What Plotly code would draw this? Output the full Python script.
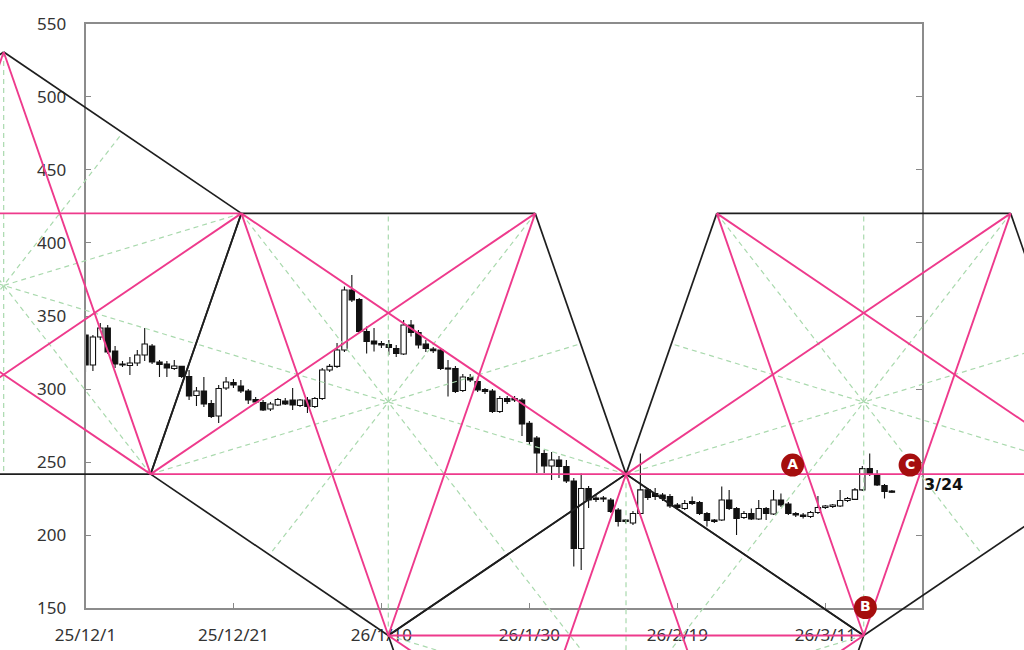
import pandas as pd
import plotly.graph_objects as go

# ---------------- candlestick data (daily from 2025-12-01) ----------------
start_date = "2025-12-01"
opens = [337.0, 316.5, 335.6, 341.8, 326.1, 317.2, 316.1, 317.8, 323.3, 329.5,
         318.5, 317.2, 314.1, 315.5, 308.6, 295.6, 298.7, 290.1, 281.6, 300.7,
         304.5, 302.1, 298.7, 292.9, 290.8, 286.4, 289.1, 291.8, 292.5, 288.8,
         292.5, 288.1, 293.6, 313.1, 315.5, 326.7, 367.8, 361.3, 339.4, 332.9,
         331.2, 330.5, 327.8, 324.0, 343.8, 338.7, 330.8, 327.4, 326.7, 314.4,
         314.1, 299.0, 307.9, 305.2, 299.7, 298.7, 284.7, 293.6, 293.6, 292.5,
         276.5, 266.5, 255.9, 247.4, 251.5, 247.0, 237.1, 190.9, 232.0, 225.5,
         224.8, 224.1, 217.3, 210.4, 208.4, 214.9, 231.0, 228.6, 227.5, 226.5,
         220.7, 218.3, 223.1, 222.4, 214.9, 210.4, 210.4, 224.1, 218.3, 212.1,
         214.9, 211.1, 218.3, 214.5, 224.1, 221.4, 214.9, 213.8, 212.8, 215.5,
         219.0, 219.7, 220.0, 223.8, 224.5, 231.0, 245.6, 241.2, 234.0, 230.3]
highs = [338.4, 337.0, 345.2, 343.8, 329.5, 319.2, 322.0, 326.7, 341.8, 330.8,
         319.9, 319.2, 319.9, 315.8, 313.1, 301.4, 308.3, 292.5, 302.8, 308.3,
         306.9, 306.2, 300.1, 294.6, 292.5, 291.2, 293.9, 293.9, 300.7, 293.2,
         294.6, 294.6, 314.4, 317.2, 331.5, 370.2, 378.1, 362.3, 342.8, 341.8,
         332.9, 333.6, 330.2, 347.3, 347.3, 340.4, 333.6, 328.8, 328.1, 319.9,
         315.8, 310.3, 310.3, 307.6, 300.7, 300.1, 295.3, 295.3, 295.3, 293.9,
         278.2, 267.9, 258.3, 257.0, 254.2, 251.5, 239.2, 242.2, 233.7, 227.5,
         226.8, 225.5, 218.6, 211.1, 216.6, 255.9, 232.3, 232.3, 228.9, 228.2,
         222.1, 224.1, 226.5, 223.4, 215.9, 211.1, 233.3, 231.0, 219.3, 216.6,
         218.3, 224.1, 219.3, 231.0, 228.6, 222.7, 215.9, 215.2, 216.6, 226.8,
         220.7, 221.4, 231.0, 226.2, 232.3, 247.4, 255.9, 244.6, 235.1, 230.9]
lows = [311.7, 312.4, 333.6, 324.0, 314.4, 315.1, 309.6, 315.8, 319.2, 317.2,
        308.3, 308.3, 313.1, 307.6, 292.5, 288.4, 287.7, 280.2, 276.8, 299.4,
        300.7, 297.3, 289.8, 289.8, 285.0, 285.0, 288.4, 289.1, 285.7, 287.7,
        283.6, 287.1, 292.5, 311.7, 314.4, 325.4, 359.6, 338.4, 324.4, 325.7,
        328.1, 323.3, 322.0, 323.3, 336.0, 327.8, 325.4, 324.7, 313.1, 294.9,
        297.3, 298.0, 304.8, 298.0, 296.6, 283.6, 283.6, 289.8, 291.2, 267.9,
        261.7, 242.6, 242.6, 237.8, 239.2, 235.7, 178.6, 176.2, 218.6, 222.7,
        222.7, 215.2, 206.0, 208.0, 207.0, 213.8, 224.1, 224.1, 223.4, 218.6,
        218.0, 217.3, 220.7, 213.8, 206.0, 208.4, 209.7, 217.3, 200.2, 211.1,
        210.4, 210.4, 210.4, 213.8, 219.3, 213.8, 212.5, 211.5, 211.8, 214.5,
        218.0, 218.6, 219.3, 222.7, 224.1, 230.3, 240.5, 233.7, 225.1, 228.9]
closes = [316.5, 335.6, 341.8, 325.4, 317.2, 316.5, 317.8, 323.3, 330.8, 318.5,
          316.8, 314.4, 315.8, 308.6, 295.3, 298.7, 289.8, 281.2, 300.4, 304.8,
          302.8, 298.7, 292.5, 291.2, 285.7, 289.8, 292.9, 289.8, 289.1, 292.5,
          288.1, 293.6, 313.1, 315.5, 326.7, 367.8, 361.0, 339.4, 332.6, 330.8,
          330.2, 328.5, 324.4, 343.8, 338.7, 330.2, 327.8, 326.3, 314.1, 313.7,
          298.3, 308.3, 306.2, 299.4, 298.3, 284.7, 293.6, 291.5, 292.5, 276.1,
          264.1, 256.3, 247.4, 251.5, 247.0, 237.1, 190.9, 232.0, 224.1, 224.5,
          225.5, 216.2, 209.4, 209.4, 214.9, 231.0, 225.8, 226.5, 225.1, 220.0,
          219.0, 221.7, 221.7, 214.9, 210.1, 209.4, 224.1, 218.3, 211.5, 214.9,
          211.1, 218.3, 214.9, 224.1, 220.7, 214.9, 213.8, 212.8, 215.5, 219.0,
          220.0, 220.7, 223.8, 225.1, 231.0, 245.6, 241.9, 234.4, 229.9, 229.4]
dates = pd.date_range(start_date, periods=len(opens), freq="D")

# ---------------- axes ----------------
x_range = ["2025-12-01", "2026-03-24"]
y_range = [150, 550]
y_ticks = [150, 200, 250, 300, 350, 400, 450, 500, 550]
x_tick_dates = ["2025-12-01", "2025-12-21", "2026-01-10", "2026-01-30", "2026-02-19", "2026-03-11"]
x_tick_labels = ["25/12/1", "25/12/21", "26/1/10", "26/1/30", "26/2/19", "26/3/11"]

# ---------------- pentagon overlay (apex points) ----------------
pent_apex_dates = ["2025-11-19 22:34", "2026-01-10 22:19", "2026-02-12 01:26", "2026-03-16 04:34"]
pent_apex_prices = [530.6, 131.4, 241.8, 131.4]
pent_pointing = ["up", "down", "up", "down"]
pent_half_diag_days = 32.13
pent_half_edge_days = 19.86
pent_diag_drop = 110.4
pent_base_drop = 288.8

# ---------------- marks ----------------
mark_labels = ["A", "B", "C"]
mark_dates = ["2026-03-06 14:00", "2026-03-16 10:00", "2026-03-22 11:00"]
mark_prices = [248.0, 150.5, 248.0]
note_text = "3/24"
note_date = "2026-03-24 02:00"
note_price = 234.5

# ---------------- layout geometry ----------------
W, H = 1024, 650
fx0, fx1 = 85.5 / W, 921.5 / W
fy0, fy1 = (H - 608.3) / H, (H - 23.7) / H

t0, t1 = pd.Timestamp(x_range[0]), pd.Timestamp(x_range[1])
span_t = (t1 - t0) / (fx1 - fx0)
full_x = [(t0 - span_t * fx0).isoformat(), (t1 + span_t * (1 - fx1)).isoformat()]
span_y = (y_range[1] - y_range[0]) / (fy1 - fy0)
full_y = [y_range[0] - span_y * fy0, y_range[1] + span_y * (1 - fy1)]


def pent_vertices(apex_date, apex_price, pointing):
    t = pd.Timestamp(apex_date)
    s = 1 if pointing == "up" else -1
    hd = pd.Timedelta(days=pent_half_diag_days)
    he = pd.Timedelta(days=pent_half_edge_days)
    return [
        (t, apex_price),
        (t + hd, apex_price - s * pent_diag_drop),
        (t + he, apex_price - s * pent_base_drop),
        (t - he, apex_price - s * pent_base_drop),
        (t - hd, apex_price - s * pent_diag_drop),
    ]


def mid(a, b):
    return (a[0] + (b[0] - a[0]) / 2, (a[1] + b[1]) / 2)


edge_x, edge_y, diag_x, diag_y, ray_x, ray_y = [], [], [], [], [], []
for d, p, o in zip(pent_apex_dates, pent_apex_prices, pent_pointing):
    v = pent_vertices(d, p, o)
    for i in range(5):
        a, b = v[i], v[(i + 1) % 5]
        edge_x += [a[0].isoformat(), b[0].isoformat(), None]
        edge_y += [a[1], b[1], None]
        c = v[(i + 2) % 5]
        diag_x += [a[0].isoformat(), c[0].isoformat(), None]
        diag_y += [a[1], c[1], None]
        m = mid(v[(i + 2) % 5], v[(i + 3) % 5])
        ray_x += [a[0].isoformat(), m[0].isoformat(), None]
        ray_y += [a[1], m[1], None]

# candle pieces built from OHLC (wicks stop at the body)
wick_x, wick_y = [], []
for d, o, h, l, c in zip(dates, opens, highs, lows, closes):
    top, bot = max(o, c), min(o, c)
    wick_x += [d, d, None, d, d, None]
    wick_y += [top, h, None, l, bot, None]
body_base = [min(o, c) for o, c in zip(opens, closes)]
body_len = [max(abs(c - o), 0.35) for o, c in zip(opens, closes)]
body_fill = ["#ffffff" if c >= o else "#111111" for o, c in zip(opens, closes)]

fig = go.Figure()

fig.add_trace(go.Scatter(x=wick_x, y=wick_y, mode="lines", xaxis="x", yaxis="y",
                         line=dict(color="#111111", width=1.1),
                         showlegend=False, hoverinfo="skip"))
fig.add_trace(go.Bar(x=dates, y=body_len, base=body_base, xaxis="x", yaxis="y",
                     width=0.72 * 86400000,
                     marker=dict(color=body_fill, line=dict(color="#111111", width=1.1)),
                     showlegend=False, hoverinfo="skip"))

fig.add_trace(go.Scatter(x=ray_x, y=ray_y, mode="lines", xaxis="x2", yaxis="y2",
                         line=dict(color="#a9d9ad", width=1.2, dash="5px,4px"),
                         showlegend=False, hoverinfo="skip"))
fig.add_trace(go.Scatter(x=edge_x, y=edge_y, mode="lines", xaxis="x2", yaxis="y2",
                         line=dict(color="#1e1e1e", width=1.7),
                         showlegend=False, hoverinfo="skip"))
fig.add_trace(go.Scatter(x=diag_x, y=diag_y, mode="lines", xaxis="x2", yaxis="y2",
                         line=dict(color="#ee3a8c", width=1.9),
                         showlegend=False, hoverinfo="skip"))
fig.add_trace(go.Scatter(
    x=mark_dates, y=mark_prices, mode="markers+text", xaxis="x2", yaxis="y2",
    marker=dict(size=23, color="#a50e0e", line=dict(width=0)),
    text=mark_labels, texttemplate="<b>%{text}</b>", textposition="middle center",
    textfont=dict(color="white", size=14, family="DejaVu Sans"),
    cliponaxis=False, showlegend=False, hoverinfo="skip"))

fig.add_annotation(x=note_date, y=note_price, xref="x2", yref="y2", text="<b>" + note_text + "</b>",
                   showarrow=False, xanchor="left", yanchor="middle",
                   font=dict(size=16, color="#111111", family="DejaVu Sans"))

axis_font = dict(family="Noto Sans", size=17, color="#333333")
fig.update_layout(
    template="none",
    width=W, height=H, autosize=False,
    margin=dict(l=0, r=0, t=0, b=0, pad=0),
    paper_bgcolor="white", plot_bgcolor="rgba(0,0,0,0)",
    showlegend=False, barmode="overlay",
    xaxis=dict(domain=[fx0, fx1], type="date", range=x_range, anchor="y", automargin=False,
               tickvals=x_tick_dates, ticktext=x_tick_labels,
               ticks="inside", ticklen=6, tickwidth=1.3, tickcolor="#888888",
               showline=True, linecolor="#8c8c8c", linewidth=1.6, mirror=True,
               showgrid=False, zeroline=False,
               tickfont=axis_font, ticklabelstandoff=10, fixedrange=True),
    yaxis=dict(domain=[fy0, fy1], range=y_range, anchor="x", automargin=False,
               tickvals=y_ticks, ticks="inside", ticklen=6, tickwidth=1.3, tickcolor="#888888",
               showline=True, linecolor="#8c8c8c", linewidth=1.6, mirror="ticks",
               showgrid=False, zeroline=False, tickfont=axis_font,
               ticklabelstandoff=14, fixedrange=True),
    xaxis2=dict(domain=[0, 1], type="date", range=full_x, anchor="y2", visible=False,
                automargin=False, showgrid=False, zeroline=False, fixedrange=True),
    yaxis2=dict(domain=[0, 1], range=full_y, anchor="x2", visible=False,
                automargin=False, showgrid=False, zeroline=False, fixedrange=True),
)

fig.write_html("out.html", post_script="document.body.style.margin='0';",
               config={"displayModeBar": False})
